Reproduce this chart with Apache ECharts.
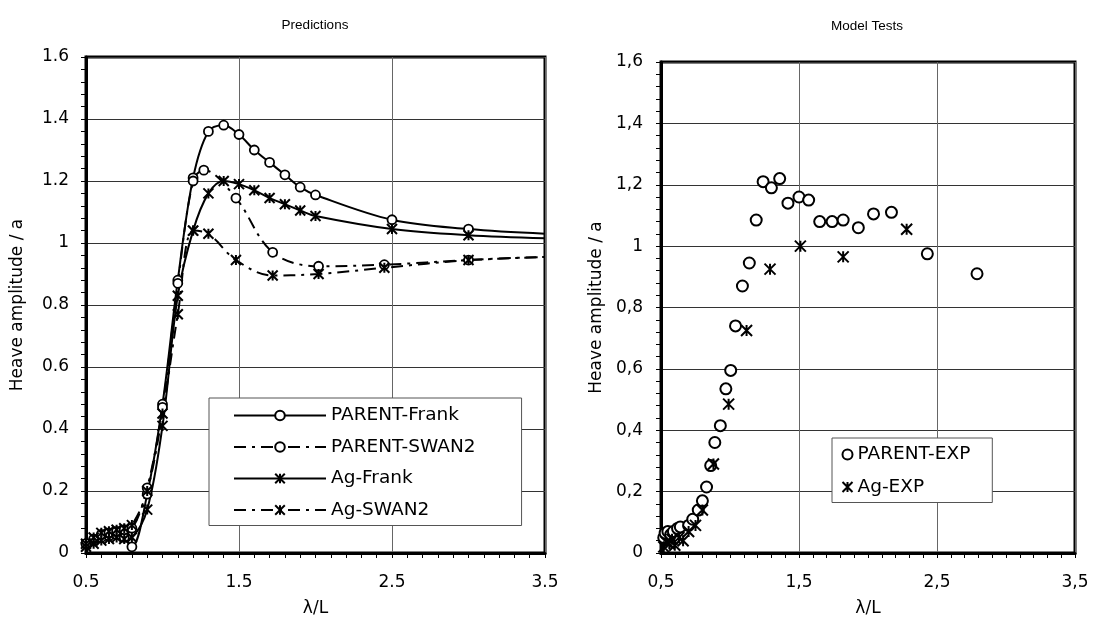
<!DOCTYPE html>
<html>
<head>
<meta charset="utf-8">
<script src="https://cdn.jsdelivr.net/npm/echarts@6/dist/echarts.min.js"></script>
<style>
  html, body { margin: 0; padding: 0; background: #fff; }
  #chart { width: 1093px; height: 631px; }
</style>
</head>
<body>
<div id="chart"></div>
<script>
// Predictions (left plot)
const parentFrankX = [0.5, 0.55, 0.6, 0.65, 0.7, 0.75, 0.8, 0.9, 1.0, 1.1, 1.2, 1.3, 1.4, 1.5, 1.6, 1.7, 1.8, 1.9, 2.0, 2.5, 3.0, 3.5];
const parentFrankY = [0.03, 0.04, 0.05, 0.055, 0.06, 0.05, 0.02, 0.19, 0.48, 0.88, 1.21, 1.36, 1.38, 1.35, 1.30, 1.26, 1.22, 1.18, 1.155, 1.075, 1.045, 1.03];

const parentSwanX = [0.5, 0.55, 0.6, 0.65, 0.7, 0.75, 0.8, 0.9, 1.0, 1.1, 1.2, 1.27, 1.48, 1.72, 2.02, 2.45, 3.0, 3.5];
const parentSwanY = [0.03, 0.045, 0.06, 0.065, 0.07, 0.075, 0.08, 0.21, 0.47, 0.87, 1.2, 1.235, 1.145, 0.97, 0.925, 0.93, 0.945, 0.955];

const agFrankX = [0.5, 0.55, 0.6, 0.65, 0.7, 0.75, 0.8, 0.9, 1.0, 1.1, 1.2, 1.3, 1.4, 1.5, 1.6, 1.7, 1.8, 1.9, 2.0, 2.5, 3.0, 3.5];
const agFrankY = [0.02, 0.03, 0.04, 0.045, 0.05, 0.045, 0.05, 0.14, 0.41, 0.83, 1.04, 1.16, 1.20, 1.19, 1.17, 1.145, 1.125, 1.105, 1.087, 1.045, 1.025, 1.015];

const agSwanX = [0.5, 0.55, 0.6, 0.65, 0.7, 0.75, 0.8, 0.9, 1.0, 1.1, 1.2, 1.3, 1.48, 1.72, 2.02, 2.45, 3.0, 3.5];
const agSwanY = [0.03, 0.05, 0.065, 0.07, 0.075, 0.08, 0.09, 0.2, 0.45, 0.77, 1.04, 1.03, 0.945, 0.895, 0.9, 0.92, 0.945, 0.955];

// Model tests (right plot)
const parentExpX = [0.52, 0.53, 0.55, 0.57, 0.59, 0.62, 0.64, 0.70, 0.73, 0.77, 0.80, 0.83, 0.86, 0.89, 0.93, 0.97, 1.005, 1.04, 1.09, 1.14, 1.19, 1.24, 1.30, 1.36, 1.42, 1.50, 1.57, 1.65, 1.74, 1.82, 1.93, 2.04, 2.17, 2.43, 2.79];
const parentExpY = [0.05, 0.065, 0.07, 0.06, 0.07, 0.08, 0.085, 0.09, 0.11, 0.14, 0.17, 0.215, 0.285, 0.36, 0.415, 0.535, 0.595, 0.74, 0.87, 0.945, 1.085, 1.21, 1.19, 1.22, 1.14, 1.16, 1.15, 1.08, 1.08, 1.085, 1.06, 1.105, 1.11, 0.975, 0.91];

const agExpX = [0.52, 0.54, 0.56, 0.58, 0.60, 0.63, 0.66, 0.70, 0.75, 0.80, 0.88, 0.99, 1.12, 1.29, 1.51, 1.82, 2.28];
const agExpY = [0.02, 0.035, 0.03, 0.045, 0.025, 0.05, 0.04, 0.07, 0.09, 0.14, 0.29, 0.485, 0.725, 0.925, 1.0, 0.965, 1.055];

const yTickLabelsLeft = ['0', '0.2', '0.4', '0.6', '0.8', '1', '1.2', '1.4', '1.6'];
const yTickLabelsRight = ['0', '0,2', '0,4', '0,6', '0,8', '1', '1,2', '1,4', '1,6'];
const xTickLabelsLeft = ['0.5', '1.5', '2.5', '3.5'];
const xTickLabelsRight = ['0,5', '1,5', '2,5', '3,5'];

const FONT = 'DejaVu Sans, Arial, sans-serif';
const STAR = 'path://M0,0L10,10M0,10L10,0M5,0L5,10';

// the last point sits on the right border, no marker there
function pairs(xs, ys) {
  return xs.map((x, i) => i === xs.length - 1 && x >= 3.5
    ? { value: [x, ys[i]], symbol: 'none' }
    : [x, ys[i]]);
}

function xAxis(gridIndex, labels) {
  return {
    type: 'value', gridIndex, min: 0.5, max: 3.5, interval: 1,
    name: 'λ/L', nameLocation: 'middle', nameGap: 47,
    nameTextStyle: { fontFamily: FONT, fontSize: 17, color: '#000' },
    axisLine: { lineStyle: { color: '#000', width: 3 } },
    axisTick: { length: 5, lineStyle: { color: '#000', width: 1 } },
    minorTick: { show: true, splitNumber: 10, length: 5, lineStyle: { color: '#000', width: 1 } },
    axisLabel: { margin: 21, fontFamily: FONT, fontSize: 17, color: '#000',
      formatter: v => labels[Math.round(v - 0.5)] },
    splitLine: { lineStyle: { color: '#666', width: 1 } }
  };
}

function yAxis(gridIndex, labels, gap, margin) {
  return {
    type: 'value', gridIndex, min: 0, max: 1.6, interval: 0.2,
    name: 'Heave amplitude / a', nameLocation: 'middle', nameGap: gap,
    nameTextStyle: { fontFamily: FONT, fontSize: 17, color: '#000' },
    axisLine: { lineStyle: { color: '#000', width: 3 } },
    axisTick: { length: 5, lineStyle: { color: '#000', width: 1 } },
    minorTick: { show: true, splitNumber: 5, length: 5, lineStyle: { color: '#000', width: 1 } },
    axisLabel: { margin, fontFamily: FONT, fontSize: 17, color: '#000',
      formatter: v => labels[Math.round(v / 0.2)] },
    splitLine: { lineStyle: { color: '#333', width: 1 } }
  };
}

function lineSeries(name, xs, ys, symbol, dashed) {
  const isStar = symbol === STAR;
  return {
    name, type: 'line', xAxisIndex: 0, yAxisIndex: 0,
    data: pairs(xs, ys),
    smooth: 0.35,
    symbol, symbolSize: isStar ? 10 : 9,
    showAllSymbol: true,
    lineStyle: { color: '#000', width: 2, type: dashed ? [12, 6, 3, 6] : 'solid' },
    itemStyle: { color: isStar ? 'none' : '#fff', borderColor: '#000', borderWidth: isStar ? 2 : 1.8 }
  };
}

const chart = echarts.init(document.getElementById('chart'), null, { renderer: 'canvas' });

chart.setOption({
  animation: false,
  backgroundColor: '#fff',
  title: [
    { text: 'Predictions', left: 310, top: 13, textAlign: 'center',
      textStyle: { fontFamily: 'Liberation Sans, Arial, sans-serif', fontSize: 13.5, fontWeight: 'normal', color: '#000' } },
    { text: 'Model Tests', left: 862, top: 14, textAlign: 'center',
      textStyle: { fontFamily: 'Liberation Sans, Arial, sans-serif', fontSize: 13.5, fontWeight: 'normal', color: '#000' } }
  ],
  grid: [
    { left: 86, right: 548, top: 57, bottom: 78, show: true, borderColor: '#000', borderWidth: 3 },
    { left: 661, right: 18, top: 62, bottom: 78, show: true, borderColor: '#000', borderWidth: 3 }
  ],
  xAxis: [xAxis(0, xTickLabelsLeft), xAxis(1, xTickLabelsRight)],
  yAxis: [yAxis(0, yTickLabelsLeft, 60, 17), yAxis(1, yTickLabelsRight, 56, 18)],
  legend: [
    {
      data: ['PARENT-Frank', 'PARENT-SWAN2', 'Ag-Frank', 'Ag-SWAN2'],
      orient: 'vertical', left: 209, top: 398,
      itemWidth: 92, itemHeight: 12, itemGap: 12.5,
      padding: [8, 46, 6, 24],
      backgroundColor: '#fff', borderColor: '#555', borderWidth: 1,
      textStyle: { fontFamily: FONT, fontSize: 18.5, color: '#000' }
    },
    {
      data: ['PARENT-EXP', 'Ag-EXP'],
      orient: 'vertical', left: 832, top: 438,
      itemWidth: 10, itemHeight: 10, itemGap: 13.5,
      padding: [7, 22, 6, 8],
      backgroundColor: '#fff', borderColor: '#555', borderWidth: 1,
      textStyle: { fontFamily: FONT, fontSize: 18.5, color: '#000' }
    }
  ],
  series: [
    lineSeries('PARENT-Frank', parentFrankX, parentFrankY, 'circle', false),
    lineSeries('PARENT-SWAN2', parentSwanX, parentSwanY, 'circle', true),
    lineSeries('Ag-Frank', agFrankX, agFrankY, STAR, false),
    lineSeries('Ag-SWAN2', agSwanX, agSwanY, STAR, true),
    {
      name: 'PARENT-EXP', type: 'scatter', xAxisIndex: 1, yAxisIndex: 1,
      data: parentExpX.map((x, i) => [x, parentExpY[i]]),
      symbol: 'circle', symbolSize: 11,
      itemStyle: { color: '#fff', borderColor: '#000', borderWidth: 2, opacity: 1 }
    },
    {
      name: 'Ag-EXP', type: 'scatter', xAxisIndex: 1, yAxisIndex: 1,
      data: agExpX.map((x, i) => [x, agExpY[i]]),
      symbol: STAR, symbolSize: 11,
      itemStyle: { color: 'none', borderColor: '#000', borderWidth: 2, opacity: 1 }
    }
  ]
});
</script>
</body>
</html>
